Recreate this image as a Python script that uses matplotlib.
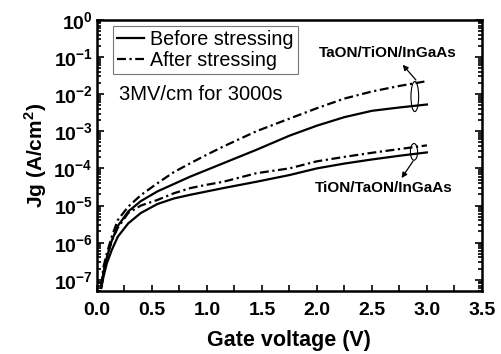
import matplotlib
matplotlib.use("Agg")
import matplotlib.pyplot as plt
from matplotlib.patches import Ellipse
from matplotlib.ticker import LogLocator, FuncFormatter, MultipleLocator, NullFormatter
import numpy as np

plt.rcParams['font.family'] = ['Liberation Sans', 'DejaVu Sans']
plt.rcParams['mathtext.fontset'] = 'custom'
plt.rcParams['mathtext.rm'] = 'Liberation Sans'
plt.rcParams['mathtext.bf'] = 'Liberation Sans:bold'

# gate voltage (V)
vg = [0.04, 0.06, 0.09, 0.135, 0.19, 0.285, 0.4, 0.55, 0.7, 0.85, 1.0,
      1.15, 1.45, 1.75, 2.0, 2.25, 2.5, 2.75, 3.0]

# log10 of Jg (A/cm^2)
taon_before = [-7.20, -6.80, -6.40, -5.95, -5.55, -5.16, -4.88, -4.62, -4.42,
               -4.22, -4.04, -3.86, -3.50, -3.12, -2.85, -2.62, -2.45, -2.36, -2.28]
taon_after = [-7.15, -6.65, -6.29, -5.84, -5.39, -5.03, -4.72, -4.40, -4.10,
              -3.86, -3.63, -3.41, -3.00, -2.66, -2.38, -2.12, -1.93, -1.78, -1.65]
tion_before = [-7.22, -6.92, -6.56, -6.20, -5.84, -5.48, -5.20, -4.96, -4.81,
               -4.71, -4.62, -4.53, -4.36, -4.18, -4.00, -3.87, -3.76, -3.66, -3.57]
tion_after = [-7.20, -6.80, -6.40, -5.95, -5.60, -5.20, -5.00, -4.85, -4.67,
              -4.53, -4.44, -4.36, -4.13, -4.00, -3.81, -3.69, -3.58, -3.48, -3.38]

# ellipse marks: x range (V), log10 y range
ell_taon = ((2.855, 2.925), (-2.47, -1.66))
ell_tion = ((2.85, 2.915), (-3.78, -3.33))

fig = plt.figure(figsize=(5.02, 3.54), dpi=100)
ax = fig.add_axes([0.193, 0.178, 0.767, 0.766])

dashdot = (0, (4, 1.6, 1, 1.6))
ax.plot(vg, 10 ** np.array(taon_before), 'k-', lw=1.6, label='Before stressing')
ax.plot(vg, 10 ** np.array(taon_after), color='k', ls=dashdot, lw=1.6, label='After stressing')
ax.plot(vg, 10 ** np.array(tion_before), 'k-', lw=1.6)
ax.plot(vg, 10 ** np.array(tion_after), color='k', ls=dashdot, lw=1.6)

ax.set_yscale('log')
ax.set_xlim(0, 3.5)
ax.set_ylim(5e-8, 1)

ax.xaxis.set_major_locator(MultipleLocator(0.5))
ax.xaxis.set_minor_locator(MultipleLocator(0.25))
ax.xaxis.set_major_formatter(FuncFormatter(lambda v, p: f'{v:.1f}'))
ax.yaxis.set_major_locator(LogLocator(base=10, numticks=20))
ax.yaxis.set_minor_locator(LogLocator(base=10, subs=np.arange(2, 10), numticks=20))
ax.yaxis.set_minor_formatter(NullFormatter())
ax.yaxis.set_major_formatter(
    FuncFormatter(lambda v, p: r'$\mathbf{10^{%d}}$' % int(round(np.log10(v)))))

ax.tick_params(which='both', direction='in', right=True, top=False, width=1.2)
ax.tick_params(which='major', length=5, labelsize=14)
ax.tick_params(which='minor', length=3)
ax.tick_params(axis='x', which='both', length=4, pad=8)
ax.tick_params(axis='y', pad=3)
for lab in ax.get_xticklabels():
    lab.set_fontweight('bold')
for s in ax.spines.values():
    s.set_linewidth(1.8)

ax.set_xlabel('Gate voltage (V)', fontsize=15.5, fontweight='bold', labelpad=8)
ax.set_ylabel(r'Jg (A/cm$^\mathbf{2}$)', fontsize=15, fontweight='bold', labelpad=3)

leg = ax.legend(loc='upper left', bbox_to_anchor=(0.041, 0.978), borderaxespad=0,
                fancybox=False, edgecolor='#777777', fontsize=14.2,
                handlelength=1.4, handletextpad=0.3, labelspacing=0.1,
                borderpad=0.2, framealpha=1)
leg.get_frame().set_linewidth(0.8)

ax.text(0.057, 0.723, '3MV/cm for 3000s', transform=ax.transAxes,
        fontsize=14.5, va='center', ha='left')

# ellipses drawn in axes fraction so they stay round on the log scale
to_axes = ax.transAxes.inverted()
for (x0, x1), (y0, y1) in (ell_taon, ell_tion):
    p0 = to_axes.transform(ax.transData.transform((x0, 10 ** y0)))
    p1 = to_axes.transform(ax.transData.transform((x1, 10 ** y1)))
    ax.add_patch(Ellipse(((p0[0] + p1[0]) / 2, (p0[1] + p1[1]) / 2),
                         p1[0] - p0[0], p1[1] - p0[1],
                         transform=ax.transAxes, fill=False, lw=0.8, color='k'))

arrow = dict(arrowstyle='-|>', color='k', lw=0.9, mutation_scale=8, shrinkA=0, shrinkB=0)
ax.annotate('', xy=(2.78, 10 ** -1.21), xytext=(2.9, 10 ** -1.62), arrowprops=arrow)
ax.annotate('', xy=(2.77, 10 ** -4.26), xytext=(2.875, 10 ** -3.8), arrowprops=arrow)
ax.text(2.64, 10 ** -0.88, 'TaON/TiON/InGaAs', fontsize=11, fontweight='bold',
        ha='center', va='center')
ax.text(2.61, 10 ** -4.52, 'TiON/TaON/InGaAs', fontsize=11, fontweight='bold',
        ha='center', va='center')

fig.savefig('out.png', dpi=100)
